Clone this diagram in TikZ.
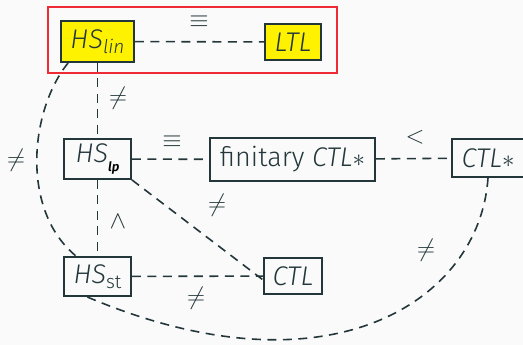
\documentclass[tikz,border=0pt]{standalone}
\usepackage{fontspec}
\setmainfont{Fira Sans}[UprightFont={* Light},ItalicFont={* Light Italic}]
\definecolor{fg}{HTML}{23373B}
\definecolor{bgc}{HTML}{FAFAFA}
\definecolor{yel}{HTML}{FFF200}
\definecolor{redb}{HTML}{EE2A34}
\tikzset{
  box/.style={draw=fg,line width=1.8pt,text=fg,inner xsep=2pt,inner ysep=0pt,minimum height=38pt,font=\fontsize{27}{31}\selectfont},
  ybox/.style={box,fill=yel},
  rel/.style={draw=fg,line width=1.6pt,dash pattern=on 9pt off 6.5pt},
  lab/.style={text=fg,font=\fontsize{27}{31}\selectfont,inner sep=0pt}
}
\begin{document}
\begin{tikzpicture}[x=1pt,y=-1pt]
\fill[bgc] (0,0) rectangle (523,345);
\useasboundingbox (0,0) rectangle (523,345);
\draw[redb,line width=1.2pt] (48,7) rectangle (337,73);
\node[ybox,minimum width=73pt,minimum height=41pt] (hslin) at (97.5,41.5) {\itshape HS\raisebox{-0.35ex}{\fontsize{19}{22}\selectfont lin}};
\node[ybox,minimum width=56pt,minimum height=36pt] (ltl) at (293,42) {\itshape LTL};
\node[box,minimum width=67pt,minimum height=40pt] (hslp) at (97.5,159) {\itshape HS\raisebox{-0.6ex}{\color{black}\fontsize{13}{15}\selectfont\bfseries lp}};
\node[box,minimum width=165pt,minimum height=43pt] (fin) at (292.5,159.5) {finitary \textit{CTL}$*$};
\node[box,minimum width=72pt,minimum height=38pt] (ctls) at (488,158) {\itshape CTL$*$};
\node[box,minimum width=67pt,minimum height=39pt] (hsst) at (97.5,276.5) {\itshape HS\raisebox{-0.35ex}{\upshape\fontsize{19}{22}\selectfont st}};
\node[box,minimum width=58pt,minimum height=36pt] (ctl) at (293,276) {\itshape CTL};
\draw[rel] (hslin) -- (ltl);
\draw[rel] (hslin) -- (hslp);
\draw[rel] (hslp) -- (fin);
\draw[rel] (fin) -- (ctls);
\draw[rel] (hslp) -- (hsst);
\draw[rel] (hsst) -- (ctl);
\draw[rel] (hslp.south east) -- ([yshift=-4pt]ctl.west);
\draw[rel] ([xshift=8pt]hslin.south west) .. controls (30,110) and (20,210) .. ([xshift=13pt]hsst.north west);
\draw[rel] (ctls.south) .. controls (480,300) and (330,400) .. ([xshift=24pt]hsst.south west);
\node[lab] at (199,22) {$\equiv$};
\node[lab] at (118,98) {$\neq$};
\node[lab] at (172,142) {$\equiv$};
\node[lab] at (415,137) {$<$};
\node[lab] at (16,160) {$\neq$};
\node[lab] at (118,222) {$\wedge$};
\node[lab] at (217,205) {$\neq$};
\node[lab] at (196,298) {$\neq$};
\node[lab] at (426,250) {$\neq$};
\end{tikzpicture}
\end{document}
